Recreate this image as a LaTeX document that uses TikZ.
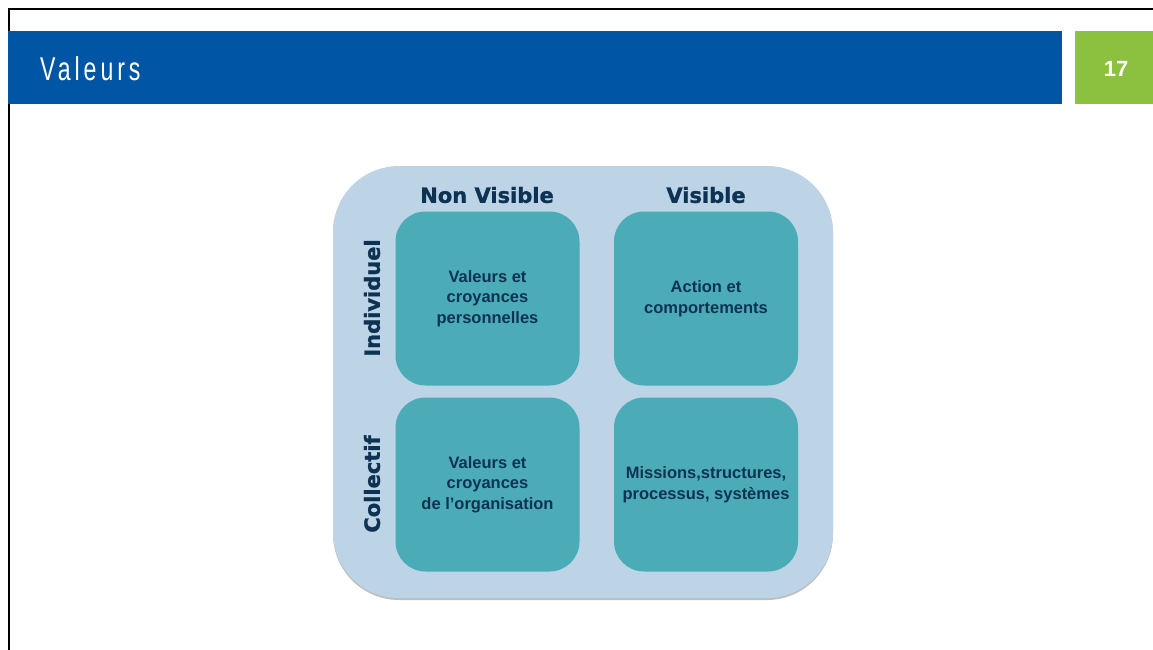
\documentclass[tikz,border=0pt]{standalone}
\usepackage{fontspec}
\setmainfont{Liberation Sans}
\newfontfamily\headfont[FakeBold=1.2]{DejaVu Sans}
\newfontfamily\titlefont[LetterSpace=12,FakeStretch=0.7]{Liberation Sans}

\definecolor{bannerblue}{HTML}{0055A4}
\definecolor{pagegreen}{HTML}{8BC13F}
\definecolor{panelblue}{HTML}{BDD4E7}
\definecolor{cellteal}{HTML}{4BACB8}
\definecolor{inknavy}{HTML}{0D3252}

\tikzset{
	cell/.style={fill=cellteal, rounded corners=30pt, minimum width=184pt,
		minimum height=174pt, inner sep=0pt, align=center, text=inknavy,
		font=\fontsize{16.5}{20.5}\selectfont\bfseries},
	head/.style={text=inknavy, inner sep=0pt, font=\headfont\fontsize{21}{24}\selectfont\bfseries}
}

\begin{document}
\begin{tikzpicture}[x=1pt, y=-1pt]
	\useasboundingbox (0,0) rectangle (1153,650);
	
	% Page frame
	\draw[line width=2pt] (9,650) -- (9,9) -- (1153,9);
	
	% Title banner and page number
	\fill[bannerblue] (8,31) rectangle (1062,104);
	\node[anchor=west, text=white, inner sep=0pt, font=\titlefont\fontsize{33}{35}\selectfont] (title) at (40,69) {Valeurs};
	\fill[pagegreen] (1075,31) rectangle (1153,104);
	\node[text=white, inner sep=0pt, font=\fontsize{22}{24}\selectfont\bfseries] (page) at (1116,69) {17};
	
	% Panel behind the grid
	\fill[black!25, rounded corners=66pt] (333,168) rectangle (833,600);
	\node[fill=panelblue, rounded corners=66pt, minimum width=500pt, minimum height=432pt, inner sep=0pt] (panel) at (583,382) {};
	
	% The four cells
	\node[cell] (indnv) at (487.5,298.5) {Valeurs et\\croyances\\personnelles};
	\node[cell] (indv) at (706,298.5) {Action et\\comportements};
	\node[cell] (colnv) at (487.5,484.5) {Valeurs et\\croyances\\de l’organisation};
	\node[cell] (colv) at (706,484.5) {Missions,structures,\\processus, systèmes};
	
	% Column and row headings
	\node[head] (nonvis) at (487,195) {Non Visible};
	\node[head] (vis) at (706,195) {Visible};
	\node[head, rotate=90] (indiv) at (372,298) {Individuel};
	\node[head, rotate=90] (collec) at (372,484) {Collectif};
	
\end{tikzpicture}
\end{document}
